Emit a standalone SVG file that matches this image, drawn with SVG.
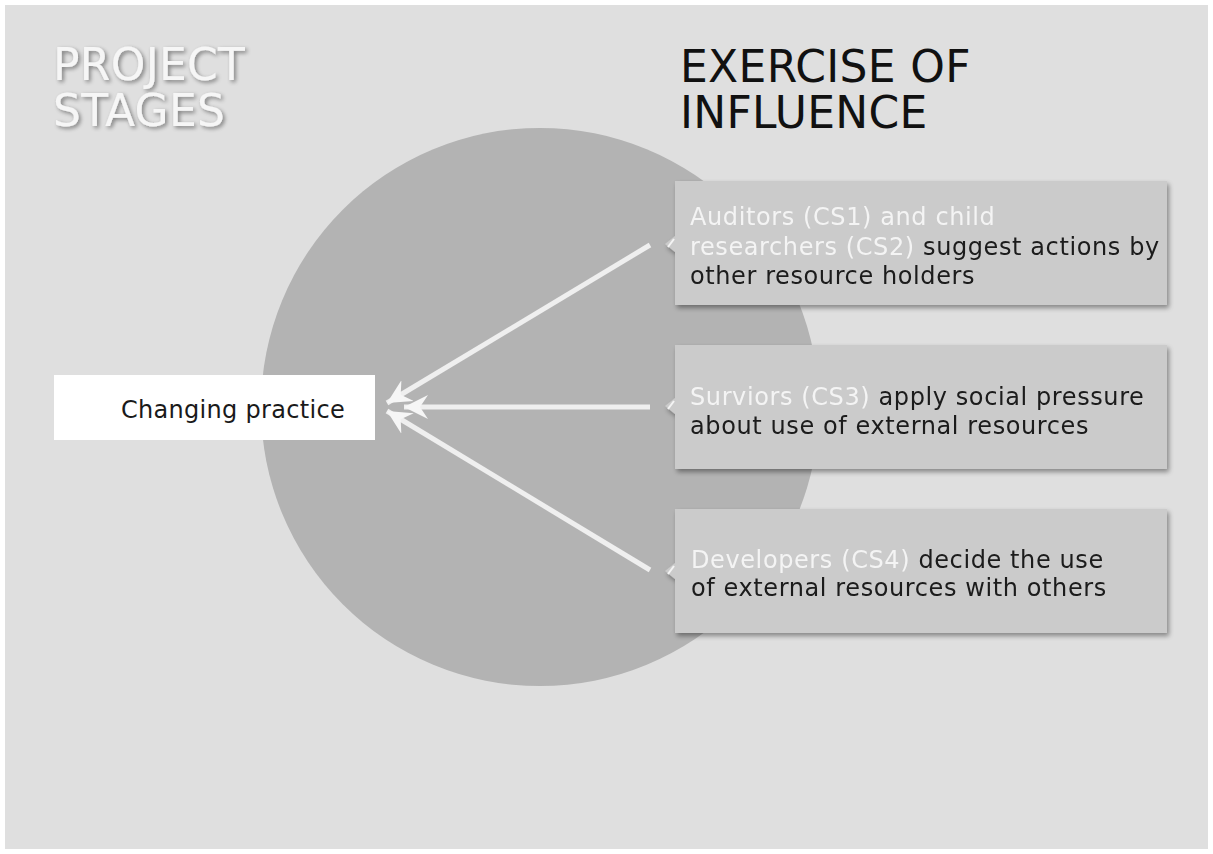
<svg xmlns="http://www.w3.org/2000/svg" width="1213" height="854" viewBox="0 0 1213 854">
<defs>
<style>
text{font-family:"DejaVu Sans","Verdana",sans-serif;}
.title{font-size:44px;letter-spacing:0.3px;}
.body{font-size:24px;letter-spacing:0.6px;fill:#1a1a1a;}
.w{fill:#f4f4f4;}
.box{fill:#cbcbcb;}
.conn{stroke:#efefef;stroke-width:5;fill:none;marker-end:url(#ah);}
</style>
<filter id="sh" x="-10%" y="-10%" width="125%" height="130%">
<feGaussianBlur in="SourceAlpha" stdDeviation="2.5"/>
<feOffset dx="2" dy="3"/>
<feComponentTransfer><feFuncA type="linear" slope="0.4"/></feComponentTransfer>
<feMerge><feMergeNode/><feMergeNode in="SourceGraphic"/></feMerge>
</filter>
<filter id="tsh" x="-10%" y="-20%" width="130%" height="150%">
<feGaussianBlur in="SourceAlpha" stdDeviation="2"/>
<feOffset dx="2" dy="2"/>
<feComponentTransfer><feFuncA type="linear" slope="0.45"/></feComponentTransfer>
<feMerge><feMergeNode/><feMergeNode in="SourceGraphic"/></feMerge>
</filter>
<marker id="ah" markerWidth="30" markerHeight="30" refX="24" refY="14" orient="auto" markerUnits="userSpaceOnUse">
<path d="M0,2 L24,14 L0,26 L8,14 Z" fill="#f6f6f6"/>
</marker>
</defs>
<rect x="0" y="0" width="1213" height="854" fill="#ffffff"/>
<rect x="5" y="5" width="1203" height="844" fill="#dfdfdf"/>
<circle cx="540" cy="407" r="279" fill="#b3b3b3"/>

<g id="title-left" filter="url(#tsh)">
<text class="title" x="53" y="80" fill="#f6f6f6">PROJECT<tspan x="53" dy="46">STAGES</tspan></text>
</g>
<g id="title-right">
<text class="title" x="680" y="82" fill="#111">EXERCISE OF<tspan x="680" dy="46">INFLUENCE</tspan></text>
</g>

<g id="node-changing">
<rect x="54" y="375" width="321" height="65" fill="#ffffff"/>
<text x="121" y="418" font-size="24" letter-spacing="0.3" fill="#1a1a1a">Changing practice</text>
</g>

<g id="node-cs12" filter="url(#sh)">
<rect class="box" x="675" y="181" width="492" height="124"/>
<path d="M675,236 L665,244 L675,252 Z" fill="#cbcbcb"/>
<path d="M668,247 L674,239" stroke="#f4f4f4" stroke-width="2"/>
<text class="body" x="690" y="225"><tspan class="w">Auditors (CS1) and child</tspan></text>
<text class="body" x="690" y="255"><tspan class="w">researchers (CS2)</tspan> suggest actions by</text>
<text class="body" x="690" y="284">other resource holders</text>
</g>

<g id="node-cs3" filter="url(#sh)">
<rect class="box" x="675" y="345" width="492" height="124"/>
<path d="M675,398 L665,406 L675,414 Z" fill="#cbcbcb"/>
<path d="M668,409 L674,401" stroke="#f4f4f4" stroke-width="2"/>
<text class="body" x="690" y="405"><tspan class="w">Surviors (CS3)</tspan> apply social pressure</text>
<text class="body" x="690" y="434">about use of external resources</text>
</g>

<g id="node-cs4" filter="url(#sh)">
<rect class="box" x="675" y="509" width="492" height="124"/>
<path d="M675,563 L665,571 L675,579 Z" fill="#cbcbcb"/>
<path d="M668,574 L674,566" stroke="#f4f4f4" stroke-width="2"/>
<text class="body" x="691" y="568"><tspan class="w">Developers (CS4)</tspan> decide the use</text>
<text class="body" x="691" y="596">of external resources with others</text>
</g>

<g id="connectors">
<line class="conn" x1="650" y1="245" x2="387" y2="403"/>
<line class="conn" x1="650" y1="407" x2="404" y2="407"/>
<line class="conn" x1="650" y1="570" x2="387" y2="411"/>
</g>
</svg>
